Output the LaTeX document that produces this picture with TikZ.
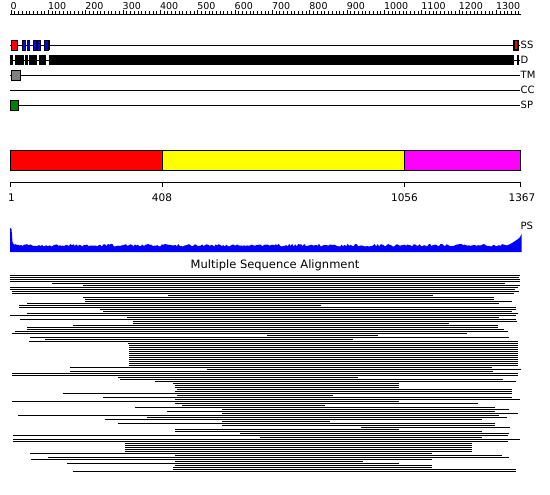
\documentclass[tikz,border=0pt]{standalone}
\usepackage{fontspec}
\setmainfont{DejaVu Sans}
\usepackage{tikz}
\usetikzlibrary{positioning}
\usepackage{xcolor}
\definecolor{ssRed}{HTML}{FF0000}
\definecolor{ssBlue}{HTML}{0000FF}
\definecolor{tmGray}{HTML}{808080}
\definecolor{spGreen}{HTML}{008000}
\definecolor{domYellow}{HTML}{FFFF00}
\definecolor{domMagenta}{HTML}{FF00FF}
\definecolor{psBlue}{HTML}{0000FF}

\begin{document}
\begin{tikzpicture}[x=1pt, y=-1pt, font=\fontsize{10}{12}\selectfont,
    featbox/.style={draw=black, line width=0.9pt},
    trackline/.style={line width=0.9pt},
    tracklabel/.style={anchor=west, inner sep=0.5pt},
    msaline/.style={line width=1pt}]
    \useasboundingbox (0,0) rectangle (550,495);

    % ruler
    \draw[trackline] (10,14.5) -- (521,14.5);
    \foreach \i in {0,...,136} \draw[line width=0.7pt] (11+\i*3.734,14.5) -- (11+\i*3.734,11.5);
    \foreach \n in {0,...,13} {
      \draw[line width=0.7pt] (11+\n*37.34,14.5) -- (11+\n*37.34,10.5);
      \node[anchor=base west, inner sep=0, font=\fontsize{9.5}{11}\selectfont]
        (tick\n) at (10.5+\n*37.34,9.5) {\the\numexpr\n*100\relax};
    }

    % feature tracks
    \node[tracklabel] (ss) at (520,45) {SS};
    \node[tracklabel] (dis) at (520,60) {D};
    \node[tracklabel] (tm) at (520,75) {TM};
    \node[tracklabel] (cc) at (520,90) {CC};
    \node[tracklabel] (sp) at (520,105) {SP};
    \draw[trackline] (10,45) -- (ss.west);
    \draw[trackline] (10,60) -- (dis.west);
    \draw[trackline] (10,75) -- (tm.west);
    \draw[trackline] (10,90) -- (cc.west);
    \draw[trackline] (10,105) -- (sp.west);

    \filldraw[featbox, fill=ssRed] (11,40.5) rectangle (17.5,50);
    \foreach \a/\b in {22.5/25.5, 27/29.5, 33/36, 37.5/40.5, 44.5/48.5}
      \filldraw[featbox, fill=ssBlue] (\a,40.5) rectangle (\b,50);
    \fill (48.5,40) rectangle (50,50.5);
    \filldraw[featbox, fill=black] (513,40.5) rectangle (518.5,50);
    \fill[ssRed] (515,41.5) rectangle (517,49);

    \foreach \a/\b in {10/12.7, 14.7/24, 25.3/28, 29.3/37.3, 39/46, 48.7/514.3, 516.7/519.3}
      \fill (\a,55) rectangle (\b,65.5);

    \filldraw[featbox, fill=tmGray] (11,70.5) rectangle (20.5,80);
    \filldraw[featbox, fill=spGreen] (10.5,100.5) rectangle (18.5,110);

    % domain bar
    \filldraw[featbox, fill=ssRed] (10.5,150.5) rectangle (162,170.5);
    \filldraw[featbox, fill=domYellow] (162,150.5) rectangle (404.5,170.5);
    \filldraw[featbox, fill=domMagenta] (404.5,150.5) rectangle (520.5,170.5);
    \draw[trackline] (10.5,182) -- (520.5,182);
    \foreach \p in {10.5,162,404.5,520.5} \draw[trackline] (\p,182) -- (\p,187);
    \node[font=\fontsize{10.5}{12}\selectfont] (res1) at (11.5,197.5) {1};
    \node[font=\fontsize{10.5}{12}\selectfont] (res408) at (162,197.5) {408};
    \node[font=\fontsize{10.5}{12}\selectfont] (res1056) at (404.5,197.5) {1056};
    \node[font=\fontsize{10.5}{12}\selectfont] (res1367) at (522,197.5) {1367};

    % PS profile
    \pgfmathsetseed{11}
    \fill[psBlue] (10,252) -- (10,228) -- (11.5,229) -- (12.5,242) -- (14,245)
      -- plot[domain=15:508, samples=330] (\x,{246.5-2.6*rnd})
      -- (512,243) -- (515,241) -- (518,239) -- (520,237) -- (521.5,234) -- (521.5,252) -- cycle;
    \node[tracklabel] (ps) at (520,226) {PS};

    % alignment
    \node[font=\fontsize{11.5}{13}\selectfont] (msatitle) at (275,265.5) {Multiple Sequence Alignment};
    \foreach \s/\e [count=\i from 0] in {
      10/520, 10/519, 10/520, 10/520, 52/505, 83/520, 10/518, 10/515, 12/519, 12/514,
      168/433, 83/494, 85/494, 85/512, 27/499, 19/321, 19/516, 100/516, 103/512, 27/518,
      10/516, 127/499, 20/516, 133/517, 133/449, 73/498, 27/498, 27/504, 15/508, 12/467,
      267/378, 30/509, 45/353, 29/518, 128/518, 129/518, 129/518, 129/518, 129/518, 129/518,
      129/518, 129/518, 129/518, 129/518, 129/518, 129/518, 70/492, 207/521, 70/493, 12/518,
      12/518, 118/358, 120/503, 155/516, 173/399, 175/399, 175/399, 177/512, 175/512, 63/512,
      177/333, 103/512, 175/520, 12/399, 175/478, 182/325, 135/495, 222/509, 167/495, 222/518,
      18/499, 147/507, 105/482, 222/330, 118/495, 222/495, 361/510, 175/399, 175/482, 240/509,
      13/508, 260/482, 13/520, 13/508, 125/472, 125/472, 125/472, 125/472, 125/472, 30/432,
      175/502, 48/509, 31/432, 175/363, 67/399, 175/432, 173/432, 173/516, 73/516}
      \draw[msaline] (\s,275.5+2*\i) -- (\e,275.5+2*\i);
\end{tikzpicture}
\end{document}
